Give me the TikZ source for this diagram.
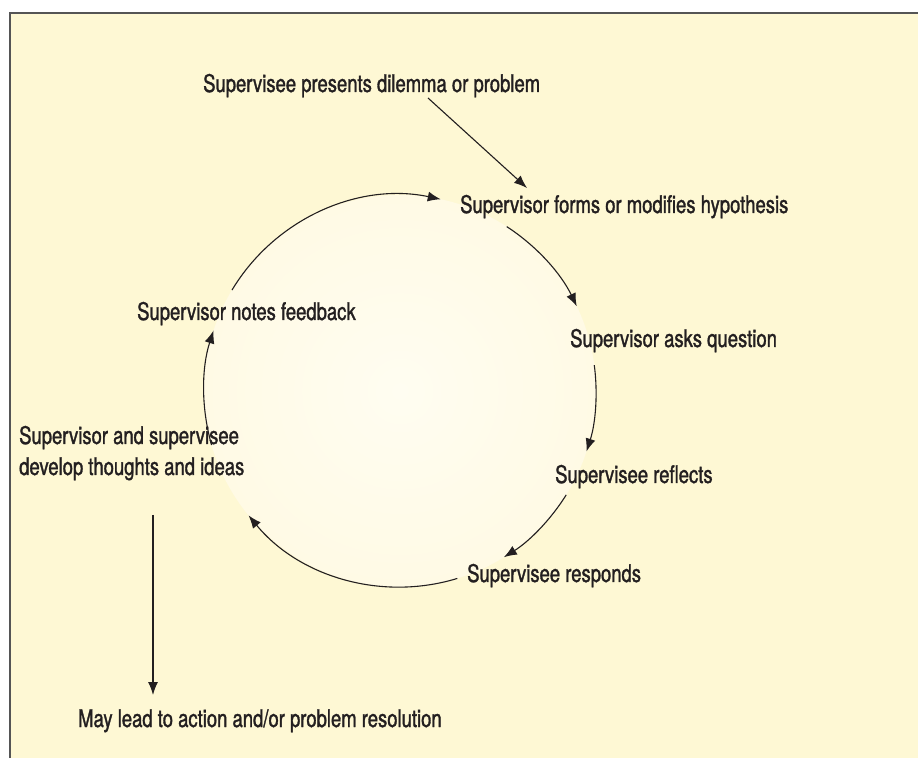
\documentclass[tikz,border=0pt]{standalone}
\usepackage{fontspec}
\usetikzlibrary{arrows.meta}
\newfontfamily\labelfont{TeX Gyre Heros}[FakeStretch=0.76,FakeBold=1.3]
\definecolor{panelbg}{HTML}{FEF8D4}
\definecolor{circin}{HTML}{FFFDF1}
\definecolor{circout}{HTML}{FFFAE5}
\definecolor{ink}{HTML}{231F20}
\definecolor{framec}{HTML}{555555}
\tikzset{
  lbl/.style={anchor=base west, inner sep=0pt, text=ink, font=\labelfont\fontsize{24.3}{31}\selectfont, align=left},
  conn/.style={draw=ink, line width=1.1pt, -{Latex[length=13pt,width=10pt]}},
}
\begin{document}
\begin{tikzpicture}[x=1pt,y=1pt]
\useasboundingbox (0,0) rectangle (918,758);
\fill[white] (0,0) rectangle (918,758);
\fill[panelbg] (10,0) rectangle (918,745);
\draw[framec, line width=1.6pt] (10,0) -- (10,745) -- (918,745);
\coordinate (C) at (400,367);
\shade[inner color=circin, outer color=circout] (C) circle (196);
% labels
\node[lbl] (dilemma) at (203,666) {Supervisee presents dilemma or problem};
\node[lbl] (hyp) at (460,545) {Supervisor forms or modifies hypothesis};
\node[lbl] (feedback) at (137,438) {Supervisor notes feedback};
\node[lbl] (asks) at (570,411) {Supervisor asks question};
\node[lbl] (reflects) at (555,275) {Supervisee reflects};
\node[lbl] (responds) at (467,176) {Supervisee responds};
\node[lbl] (develop) at (19,283) {Supervisor and supervisee\\develop thoughts and ideas};
\node[lbl] (action) at (78,31) {May lead to action and/or problem resolution};
% straight connectors
\coordinate (d1) at (428,660);
\coordinate (d2) at (527,570);
\draw[conn] (d1) -- (d2);
\coordinate (v1) at (153,243);
\coordinate (v2) at (153,63);
\draw[conn] (v1) -- (v2);
% cycle arcs
\draw[conn] (C) ++(149:196) arc[start angle=149, end angle=78, radius=196];
\draw[conn] (C) ++(57:196) arc[start angle=57, end angle=25.6, radius=196];
\draw[conn] (C) ++(7.6:196) arc[start angle=7.6, end angle=-18, radius=196];
\draw[conn] (C) ++(-32:196) arc[start angle=-32, end angle=-58, radius=196];
\draw[conn] (C) ++(-73:196) arc[start angle=-73, end angle=-140.6, radius=196];
\draw[conn] (C) ++(-164:196) arc[start angle=-164, end angle=-198, radius=196];
\end{tikzpicture}
\end{document}
